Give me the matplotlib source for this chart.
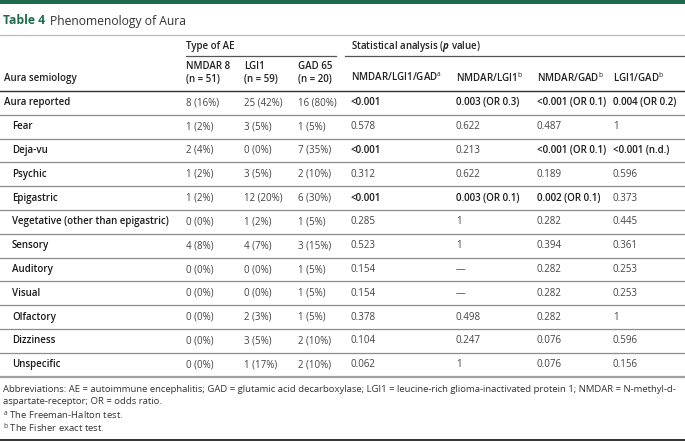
import matplotlib
matplotlib.use("Agg")
import matplotlib.pyplot as plt

plt.rcParams["font.family"] = ["Open Sans", "DejaVu Sans"]
plt.rcParams["mathtext.fontset"] = "custom"
plt.rcParams["mathtext.rm"] = "Open Sans"
plt.rcParams["mathtext.it"] = "Open Sans:italic:bold"

# table content
semiology = ["Aura reported", "Fear", "Deja-vu", "Psychic", "Epigastric",
             "Vegetative (other than epigastric)", "Sensory", "Auditory",
             "Visual", "Olfactory", "Dizziness", "Unspecific"]
nmdar = ["8 (16%)", "1 (2%)", "2 (4%)", "1 (2%)", "1 (2%)", "0 (0%)",
         "4 (8%)", "0 (0%)", "0 (0%)", "0 (0%)", "0 (0%)", "0 (0%)"]
lgi1 = ["25 (42%)", "3 (5%)", "0 (0%)", "3 (5%)", "12 (20%)", "1 (2%)",
        "4 (7%)", "0 (0%)", "0 (0%)", "2 (3%)", "3 (5%)", "1 (17%)"]
gad = ["16 (80%)", "1 (5%)", "7 (35%)", "2 (10%)", "6 (30%)", "1 (5%)",
       "3 (15%)", "1 (5%)", "1 (5%)", "1 (5%)", "2 (10%)", "2 (10%)"]
p_all = ["<0.001", "0.578", "<0.001", "0.312", "<0.001", "0.285",
         "0.523", "0.154", "0.154", "0.378", "0.104", "0.062"]
p_nmdar_lgi1 = ["0.003 (OR 0.3)", "0.622", "0.213", "0.622", "0.003 (OR 0.1)", "1",
                "1", "\u2014", "\u2014", "0.498", "0.247", "1"]
p_nmdar_gad = ["<0.001 (OR 0.1)", "0.487", "<0.001 (OR 0.1)", "0.189", "0.002 (OR 0.1)",
               "0.282", "0.394", "0.282", "0.282", "0.282", "0.076", "0.076"]
p_lgi1_gad = ["0.004 (OR 0.2)", "1", "<0.001 (n.d.)", "0.596", "0.373", "0.445",
              "0.361", "0.253", "0.253", "1", "0.596", "0.156"]

group_headers = ["NMDAR 8\n(n = 51)", "LGI1\n(n = 59)", "GAD 65\n(n = 20)"]
stat_headers = [r"NMDAR/LGI1/GAD$^{\mathrm{a}}$", r"NMDAR/LGI1$^{\mathrm{b}}$",
                r"NMDAR/GAD$^{\mathrm{b}}$", r"LGI1/GAD$^{\mathrm{b}}$"]
footnotes = [
    "Abbreviations: AE = autoimmune encephalitis; GAD = glutamic acid decarboxylase; "
    "LGI1 = leucine-rich glioma-inactivated protein 1; NMDAR = N-methyl-d-",
    "aspartate-receptor; OR = odds ratio.",
    r"$^{\mathrm{a}}$ The Freeman-Halton test.",
    r"$^{\mathrm{b}}$ The Fisher exact test.",
]

GREEN = "#1f6b4e"
TXT = "#333333"
W, H = 685, 442
FS = 7.0
BOLD = "semibold"


def significant(s):
    s = s.split(" ")[0]
    if s.startswith("<"):
        return True
    try:
        return float(s) < 0.05
    except ValueError:
        return False


fig = plt.figure(figsize=(W / 100, H / 100), dpi=100)
ax = fig.add_axes([0, 0, 1, 1])
ax.set_xlim(0, W)
ax.set_ylim(H, 0)
ax.axis("off")

# title block
ax.axhspan(0, 4, color=GREEN, lw=0)
ax.text(3, 21, "Table 4", fontsize=8.7, fontweight="bold", color=GREEN, va="center")
ax.text(50, 21, "Phenomenology of Aura", fontsize=8.7, color=TXT, va="center")
ax.plot([0, W], [35, 35], color="#a9c7b8", lw=0.9)

# header
col_x = [186, 244, 298, 351, 456, 537, 613]
ax.text(col_x[0], 47, "Type of AE", fontsize=FS, fontweight=BOLD, color="#222222", va="center")
ax.text(col_x[3], 47, r"Statistical analysis ($p$ value)", fontsize=FS,
        fontweight=BOLD, color="#222222", va="center")
ax.plot([186, 336], [56, 56], color="#555555", lw=0.9)
ax.plot([345, W], [56, 56], color="#555555", lw=0.9)
for x, h in zip(col_x[:3], group_headers):
    ax.text(x, 73, h, fontsize=FS, fontweight=BOLD, color="#222222", va="center",
            linespacing=1.25)
for x, h in zip(col_x[3:], stat_headers):
    ax.text(x, 78, h, fontsize=FS, fontweight=BOLD, color="#222222", va="center")
ax.text(4, 78, "Aura semiology", fontsize=FS, fontweight=BOLD, color="#222222", va="center")
ax.plot([0, W], [91, 91], color="#333333", lw=1.0)

# body
top, pitch = 91, 23.8
counts = [nmdar, lgi1, gad]
pvals = [p_all, p_nmdar_lgi1, p_nmdar_gad, p_lgi1_gad]
for i, label in enumerate(semiology):
    yc = top + pitch * (i + 0.5)
    ax.text(4 if i == 0 else 12, yc, label, fontsize=FS, fontweight=BOLD,
            color="#1a1a1a", va="center")
    for x, col in zip(col_x[:3], counts):
        ax.text(x, yc, col[i], fontsize=FS, color="#444444", va="center")
    for x, col in zip(col_x[3:], pvals):
        bold = significant(col[i])
        ax.text(x, yc, col[i], fontsize=FS, va="center",
                fontweight=BOLD if bold else "normal",
                color="#1a1a1a" if bold else "#444444")
    yl = top + pitch * (i + 1)
    if i < len(semiology) - 1:
        ax.plot([0, W], [yl, yl], color="#8c8c8c", lw=0.9)
    else:
        ax.plot([0, W], [yl, yl], color="#a0a0a0", lw=1.6)

# footnotes
for k, line in enumerate(footnotes):
    ax.text(3, 389 + 13 * k, line, fontsize=6.82, color=TXT, va="center")
ax.plot([0, W], [440, 440], color="#222222", lw=1.3)

fig.savefig("out.png", dpi=100)
